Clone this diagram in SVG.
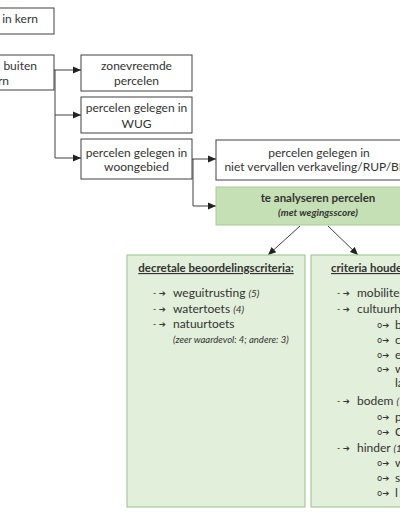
<svg xmlns="http://www.w3.org/2000/svg" width="400" height="516" viewBox="0 0 400 516">
<style>
.box{fill:#fff;stroke:#404040;stroke-width:1}
.gtitle{fill:#c5e0b4;stroke:#a9c99a;stroke-width:1}
.gbox{fill:#e2efda;stroke:#a9c99a;stroke-width:1.2}
.t{font-family:Lato,"Liberation Sans",sans-serif;font-size:12px;fill:#333}
.c{text-anchor:middle}
.e{text-anchor:end}
.b{font-weight:bold;font-size:11.5px}
.u{text-decoration:underline}
.i{font-style:italic;font-size:10px}
.sm{font-size:9.5px}
.bul{font-family:"DejaVu Sans",sans-serif;font-size:8.5px;fill:#333}
.ln{fill:none;stroke:#404040;stroke-width:1}
</style>
<defs>
<marker id="ah" markerUnits="userSpaceOnUse" markerWidth="8" markerHeight="8" viewBox="0 0 8 8" refX="8" refY="4" orient="auto">
<path d="M0,0.5 L8,4 L0,7.5 Z" fill="#222"/>
</marker>
</defs>
<g id="connectors">
<path class="ln" d="M54,70 H81" marker-end="url(#ah)"/>
<path class="ln" d="M55,70 V115 H81" marker-end="url(#ah)"/>
<path class="ln" d="M55,115 V158 H81" marker-end="url(#ah)"/>
<path class="ln" d="M192,159 H216" marker-end="url(#ah)"/>
<path class="ln" d="M193,159 V206 H216" marker-end="url(#ah)"/>
<path class="ln" d="M300,226 L268,255" marker-end="url(#ah)"/>
<path class="ln" d="M328,226 L358,255" marker-end="url(#ah)"/>
</g>
<g id="kern">
<rect class="box" x="-60" y="8" width="114" height="26"/>
<text class="t e" x="38" y="23">n in kern</text>
</g>
<g id="buitenkern">
<rect class="box" x="-60" y="55" width="114" height="35"/>
<text class="t e" x="37" y="70">n buiten</text>
<text class="t e" x="9" y="85">rn</text>
</g>
<g id="zonevreemd">
<rect class="box" x="81" y="55" width="111" height="36"/>
<text class="t c" x="136.5" y="70">zonevreemde</text>
<text class="t c" x="136.5" y="85">percelen</text>
</g>
<g id="wug">
<rect class="box" x="81" y="97" width="111" height="36"/>
<text class="t c" x="136.5" y="112">percelen gelegen in</text>
<text class="t c" x="136.5" y="128">WUG</text>
</g>
<g id="woongebied">
<rect class="box" x="81" y="139" width="111" height="40"/>
<text class="t c" x="136.5" y="157">percelen gelegen in</text>
<text class="t c" x="136.5" y="171">woongebied</text>
</g>
<g id="verkaveling">
<rect class="box" x="216" y="140" width="206" height="40"/>
<text class="t c" x="319" y="157">percelen gelegen in</text>
<text class="t c" x="319" y="171">niet vervallen verkaveling/RUP/BPA</text>
</g>
<g id="analyse">
<rect class="gtitle" x="216" y="187" width="206" height="38"/>
<text class="t c b" x="318" y="202">te analyseren percelen</text>
<text class="t c b i" x="318" y="216">(met wegingsscore)</text>
</g>
<g id="decretaal">
<rect class="gbox" x="127" y="255" width="178" height="252"/>
<text class="t c b u" x="216" y="272">decretale beoordelingscriteria:</text>
<text class="bul" x="153" y="296">- ➔</text>
<text class="t" x="173" y="297">weguitrusting <tspan class="i">(5)</tspan></text>
<text class="bul" x="153" y="312">- ➔</text>
<text class="t" x="173" y="313">watertoets <tspan class="i">(4)</tspan></text>
<text class="bul" x="153" y="327">- ➔</text>
<text class="t" x="173" y="328">natuurtoets</text>
<text class="t i sm" x="173" y="343">(zeer waardevol: 4; andere: 3)</text>
</g>
<g id="criteria">
<rect class="gbox" x="311" y="255" width="120" height="252"/>
<text class="t b u" x="331" y="272">criteria houder</text>
<text class="bul" x="337" y="296">- ➔</text>
<text class="t" x="357" y="297">mobiliteit</text>
<text class="bul" x="337" y="312">- ➔</text>
<text class="t" x="357" y="313">cultuurhi</text>
<text class="bul" x="377" y="328">o➔</text>
<text class="t" x="395" y="329">b</text>
<text class="bul" x="377" y="343">o➔</text>
<text class="t" x="395" y="344">c</text>
<text class="bul" x="377" y="358">o➔</text>
<text class="t" x="395" y="359">e</text>
<text class="bul" x="377" y="372">o➔</text>
<text class="t" x="395" y="373">w</text>
<text class="t" x="395" y="387">la</text>
<text class="bul" x="337" y="404">- ➔</text>
<text class="t" x="357" y="405">bodem <tspan class="i">(1</tspan></text>
<text class="bul" x="377" y="420">o➔</text>
<text class="t" x="395" y="421">p</text>
<text class="bul" x="377" y="435">o➔</text>
<text class="t" x="395" y="436">C</text>
<text class="bul" x="337" y="451">- ➔</text>
<text class="t" x="357" y="452">hinder <tspan class="i">(1,</tspan></text>
<text class="bul" x="377" y="466">o➔</text>
<text class="t" x="395" y="467">w</text>
<text class="bul" x="377" y="481">o➔</text>
<text class="t" x="395" y="482">s</text>
<text class="bul" x="377" y="496">o➔</text>
<text class="t" x="395" y="497">l</text>
</g>
</svg>
